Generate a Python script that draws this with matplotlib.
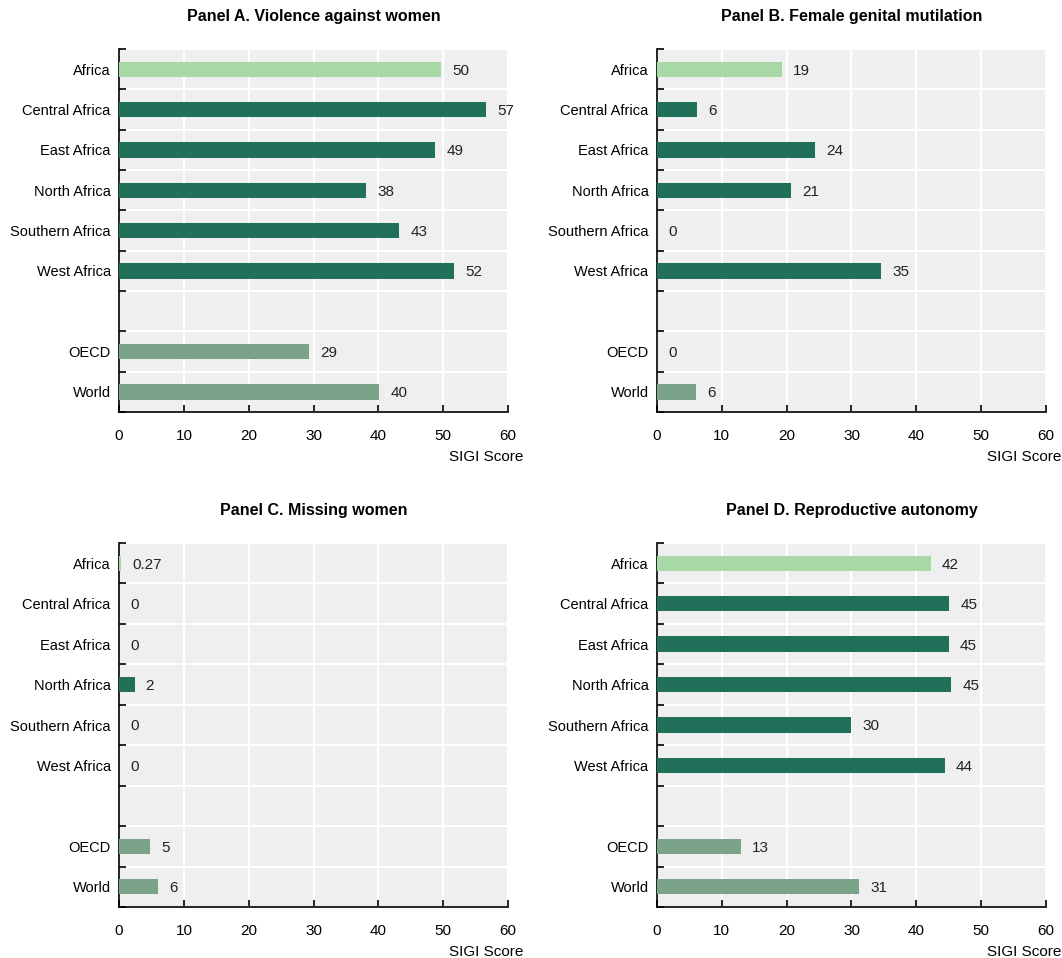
import matplotlib
matplotlib.use("Agg")
import matplotlib.pyplot as plt

plt.rcParams['font.family'] = ['Liberation Sans Narrow', 'Liberation Sans', 'DejaVu Sans']

regions = ["Africa", "Central Africa", "East Africa", "North Africa",
           "Southern Africa", "West Africa", "", "OECD", "World"]

titles = ["Panel A. Violence against women",
          "Panel B. Female genital mutilation",
          "Panel C. Missing women",
          "Panel D. Reproductive autonomy"]

# valores por panel (slot vacio = None)
violencia = [49.7, 56.6, 48.8, 38.1, 43.2, 51.7, None, 29.3, 40.1]
mutilacion = [19.3, 6.2, 24.4, 20.7, 0, 34.6, None, 0, 6.0]
desaparecidas = [0.27, 0, 0, 2.4, 0, 0, None, 4.8, 6.0]
autonomia = [42.2, 45.1, 45.0, 45.4, 30.0, 44.4, None, 13.0, 31.2]

paneles = [violencia, mutilacion, desaparecidas, autonomia]

col_africa = "#A8D8A5"
col_region = "#21705A"
col_oecd = "#7BA38A"
colores = [col_africa] + [col_region] * 5 + ["none"] + [col_oecd] * 2

fig = plt.figure(figsize=(10.62, 9.58), dpi=100)

# posiciones de los ejes (izq, abajo, ancho, alto)
posiciones = [(0.1121, 0.5699, 0.3663, 0.3789),
              (0.6186, 0.5699, 0.3663, 0.3789),
              (0.1121, 0.0532, 0.3663, 0.3800),
              (0.6186, 0.0532, 0.3663, 0.3800)]


def etiqueta(v):
    if 0 < v < 1:
        return f"{v:.2f}"
    return f"{round(v):.0f}"


for pos, titulo, valores in zip(posiciones, titles, paneles):
    ax = fig.add_axes(pos)
    ax.set_facecolor("#EFEFEF")
    ys = list(range(len(regions)))
    for y, v, c in zip(ys, valores, colores):
        if v is None:
            continue
        ax.barh(y, v, height=0.38, color=c, zorder=3)
        ax.annotate(etiqueta(v), xy=(v, y), xytext=(8, -1),
                    textcoords="offset points", ha="left", va="center",
                    fontsize=11, color="#222222", zorder=4)

    ax.set_xlim(0, 60)
    ax.set_ylim(len(regions) - 0.5, -0.5)
    ax.set_xticks(range(0, 61, 10))
    ax.set_yticks(ys)
    ax.set_yticklabels(regions, fontsize=10.5)
    ax.set_yticks([i - 0.5 for i in range(len(regions) + 1)], minor=True)
    ax.tick_params(axis="y", which="major", length=0, pad=6)
    ax.tick_params(axis="y", which="minor", direction="in", length=5, width=1.2)
    ax.tick_params(axis="x", direction="in", length=5, width=1.2,
                   labelsize=11, pad=12)
    ax.grid(axis="x", which="major", color="white", linewidth=1.5, zorder=1)
    ax.grid(axis="y", which="minor", color="white", linewidth=1.5, zorder=1)
    ax.grid(axis="y", which="major", visible=False)
    for lado in ["top", "right"]:
        ax.spines[lado].set_visible(False)
    for lado in ["left", "bottom"]:
        ax.spines[lado].set_linewidth(1.2)
    ax.set_title(titulo, fontsize=11.5, fontweight="bold", pad=20)
    ax.set_xlabel("SIGI Score", fontsize=11, labelpad=0)
    ax.xaxis.set_label_coords(1.04, -0.105)
    ax.xaxis.label.set_horizontalalignment("right")

fig.savefig("out.png", dpi=100)
